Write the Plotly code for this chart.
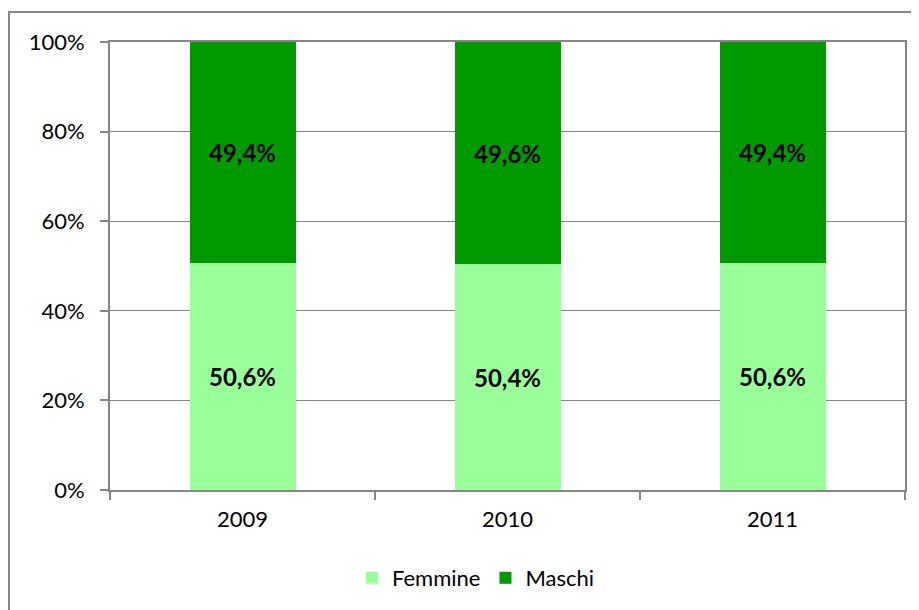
import plotly.graph_objects as go

years = ["2009", "2010", "2011"]
femmine = [50.6, 50.4, 50.6]
maschi = [49.4, 49.6, 49.4]
femmine_labels = ["50,6%", "50,4%", "50,6%"]
maschi_labels = ["49,4%", "49,6%", "49,4%"]
y_ticks = [0, 20, 40, 60, 80, 100]
y_tick_labels = ["0%", "20%", "40%", "60%", "80%", "100%"]

FONT = "Lato, Carlito, Calibri, sans-serif"
OFF = 8  # page body margin
W, H = 919, 610
L, T = 110 - OFF, 42 - OFF
R = W - (905 - OFF)
B = H - (490 - OFF)
pw, ph = W - L - R, H - T - B

fig = go.Figure()
fig.add_trace(go.Bar(x=years, y=femmine, name="Femmine", marker_color="#99FF99",
                     marker_line_width=0, text=femmine_labels, textposition="inside",
                     insidetextanchor="middle",
                     textfont=dict(family=FONT, size=24, color="black"), texttemplate="<b>%{text}</b>"))
fig.add_trace(go.Bar(x=years, y=maschi, name="Maschi", marker_color="#009900",
                     marker_line_width=0, text=maschi_labels, textposition="inside",
                     insidetextanchor="middle",
                     textfont=dict(family=FONT, size=24, color="black"), texttemplate="<b>%{text}</b>"))

leg_x = (476 - OFF - L) / pw
leg_y = ((490 - OFF) - (578 - OFF)) / ph

fig.update_layout(
    barmode="stack", bargap=0.6,
    width=W, height=H,
    margin=dict(l=L, r=R, t=T, b=B, autoexpand=False),
    paper_bgcolor="white", plot_bgcolor="white",
    font=dict(family=FONT, size=22, color="black"),
    showlegend=True,
    legend=dict(orientation="h", x=leg_x, xanchor="center", y=leg_y, yanchor="middle",
                font=dict(family=FONT, size=22), traceorder="normal",
                itemwidth=30, tracegroupgap=0),
)
fig.update_xaxes(showline=True, linecolor="#868686", linewidth=2, mirror=True,
                 ticks="outside", tickson="boundaries", ticklen=8, tickcolor="#868686",
                 tickwidth=2, showgrid=False, tickfont=dict(size=22),
                 ticklabelstandoff=9)
fig.update_yaxes(range=[0, 100], tickvals=y_ticks, ticktext=y_tick_labels,
                 showline=True, linecolor="#868686", linewidth=2, mirror=True,
                 ticks="outside", ticklen=8, tickcolor="#868686", tickwidth=2,
                 showgrid=True, gridcolor="#868686", gridwidth=1,
                 ticklabelstandoff=11, tickfont=dict(size=22))

# outer chart frame
fig.add_shape(type="rect", xref="paper", yref="paper",
              x0=(1 - L) / pw, x1=(W + 40 - L) / pw,
              y0=-(H + 40 - T - ph) / ph, y1=1 + (T - 4) / ph,
              line=dict(color="#868686", width=2), layer="below")

fig.write_html("out.html")
